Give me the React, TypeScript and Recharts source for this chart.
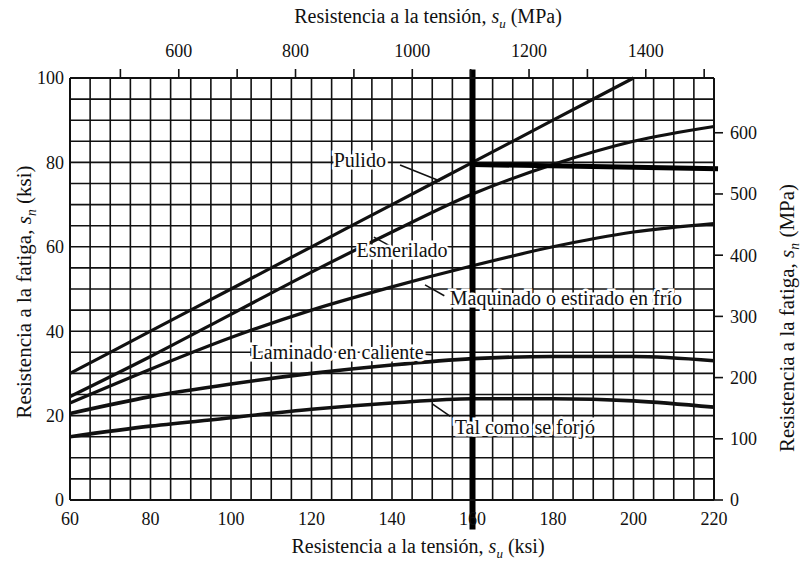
import {
  LineChart,
  Line,
  XAxis,
  YAxis,
  CartesianGrid,
  ReferenceLine,
  ReferenceDot,
} from "recharts";

// tensile strength s_u (ksi) at which curves were read
const su = [60, 80, 100, 120, 140, 160, 180, 200, 220];
// fatigue strength s_n (ksi) per surface finish
const pulido = [30, 40, 50, 60, 70, 80, 90, 100, null];
const esmerilado = [24.5, 34, 44, 54, 63.5, 72.5, 79.5, 85, 88.5];
const maquinado = [23, 31, 38.5, 45, 50.5, 55.5, 60, 63.5, 65.5];
const laminado = [20.5, 24.5, 27.5, 30, 32, 33.5, 34, 34, 33];
const forjado = [15, 17.5, 19.5, 21.5, 23, 24, 24, 23.5, 22];

const ksiLabels = [60, 80, 100, 120, 140, 160, 180, 200, 220];
const snLabels = [0, 20, 40, 60, 80, 100];
const mpaTopTicks = [500, 600, 700, 800, 900, 1000, 1100, 1200, 1300, 1400, 1500];
const mpaTopLabels = [600, 800, 1000, 1200, 1400];
const mpaRightTicks = [0, 100, 200, 300, 400, 500, 600];

const K = 6.894757; // MPa per ksi
const FONT = "'Liberation Serif', 'Times New Roman', serif";
const INK = "#111";

const gridX = Array.from({ length: 33 }, (_, i) => 60 + i * 5);
const gridY = Array.from({ length: 21 }, (_, i) => i * 5);

const data = su.map((x, i) => ({
  x,
  pulido: pulido[i],
  esmerilado: esmerilado[i],
  maquinado: maquinado[i],
  laminado: laminado[i],
  forjado: forjado[i],
}));

const tickStyle = { fill: INK, fontSize: 18, fontFamily: FONT };

function curveText(text: string) {
  return (p: any) => {
    const vb = p.viewBox || {};
    const x = (vb.x ?? 0) + (vb.width ?? 0) / 2;
    const y = (vb.y ?? 0) + (vb.height ?? 0) / 2;
    return (
      <text
        x={x}
        y={y}
        textAnchor="middle"
        dominantBaseline="central"
        fontFamily={FONT}
        fontSize={20}
        fill={INK}
        stroke="#fff"
        strokeWidth={5}
        paintOrder="stroke"
      >
        {text}
      </text>
    );
  };
}

const labels = [
  { x: 132, y: 80.6, text: "Pulido" },
  { x: 142.5, y: 59.2, text: "Esmerilado" },
  { x: 183.2, y: 47.9, text: "Maquinado o estirado en frío" },
  { x: 126.5, y: 35.1, text: "Laminado en caliente" },
  { x: 173, y: 17.3, text: "Tal como se forjó" },
];

const leaders = [
  [{ x: 142, y: 79.4 }, { x: 151.9, y: 75.6 }],
  [{ x: 135.5, y: 62.3 }, { x: 139.5, y: 60.2 }],
  [{ x: 148.2, y: 51 }, { x: 153, y: 48.4 }],
  [{ x: 147.5, y: 34.6 }, { x: 150, y: 34.4 }],
  [{ x: 150, y: 22.8 }, { x: 154.5, y: 19.8 }],
];

function Title({ cx, cy, rotate, size, unit, sub }: any) {
  return (
    <div
      style={{
        position: "absolute",
        left: cx,
        top: cy,
        transform: `translate(-50%, -50%)${rotate ? " rotate(-90deg)" : ""}`,
        whiteSpace: "nowrap",
        fontFamily: FONT,
        fontSize: size,
        color: INK,
        lineHeight: 1.2,
      }}
    >
      Resistencia a la {sub === "u" ? "tensión" : "fatiga"}, <i>s</i>
      <sub style={{ fontSize: "0.65em", fontStyle: "italic" }}>{sub}</sub> ({unit})
    </div>
  );
}

export default function App() {
  return (
    <div
      style={{
        position: "absolute",
        left: 0,
        top: 0,
        width: 801,
        height: 567,
        background: "#fff",
      }}
    >
      <LineChart
        width={801}
        height={567}
        data={data}
        margin={{ top: 38, right: 27, bottom: 37, left: 10 }}
      >
        <CartesianGrid stroke={INK} strokeWidth={1.6} />
        <XAxis
          dataKey="x"
          type="number"
          domain={[60, 220]}
          ticks={gridX}
          interval={0}
          tickFormatter={(v) => (ksiLabels.includes(v) ? String(v) : "")}
          tick={tickStyle}
          tickLine={false}
          tickSize={0}
          tickMargin={12}
          axisLine={{ stroke: INK, strokeWidth: 2 }}
          height={30}
        />
        {/* MPa scale on top: same ksi scale, ticks placed at MPa equivalents */}
        <XAxis
          xAxisId="mpa"
          dataKey="x"
          orientation="top"
          type="number"
          domain={[60, 220]}
          allowDataOverflow
          ticks={mpaTopTicks.map((m) => m / K)}
          interval={0}
          tickFormatter={(v) => {
            const m = Math.round(v * K);
            return mpaTopLabels.includes(m) ? String(m) : "";
          }}
          tick={tickStyle}
          tickLine={{ stroke: INK, strokeWidth: 1.6 }}
          tickSize={9}
          tickMargin={12}
          axisLine={{ stroke: INK, strokeWidth: 2 }}
          height={40}
        />
        <YAxis
          type="number"
          domain={[0, 100]}
          ticks={gridY}
          interval={0}
          tickFormatter={(v) => (snLabels.includes(v) ? String(v) : "")}
          tick={tickStyle}
          tickLine={false}
          tickSize={0}
          tickMargin={6}
          axisLine={{ stroke: INK, strokeWidth: 2 }}
          width={60}
        />
        <YAxis
          yAxisId="mpa"
          orientation="right"
          type="number"
          domain={[0, 100 * K]}
          allowDataOverflow
          ticks={mpaRightTicks}
          interval={0}
          tick={tickStyle}
          tickLine={{ stroke: INK, strokeWidth: 1.6 }}
          tickSize={9}
          tickMargin={7}
          axisLine={{ stroke: INK, strokeWidth: 2 }}
          width={60}
        />
        <Line type="monotone" dataKey="pulido" stroke={INK} strokeWidth={3.2} dot={false} isAnimationActive={false} />
        <Line type="monotone" dataKey="esmerilado" stroke={INK} strokeWidth={3.2} dot={false} isAnimationActive={false} />
        <Line type="monotone" dataKey="maquinado" stroke={INK} strokeWidth={3.2} dot={false} isAnimationActive={false} />
        <Line type="monotone" dataKey="laminado" stroke={INK} strokeWidth={3.6} dot={false} isAnimationActive={false} />
        <Line type="monotone" dataKey="forjado" stroke={INK} strokeWidth={3.6} dot={false} isAnimationActive={false} />
        {leaders.map((seg, i) => (
          <ReferenceLine
            key={"l" + i}
            segment={seg}
            stroke={INK}
            strokeWidth={1.5}
            ifOverflow="visible"
          />
        ))}
        {labels.map((l) => (
          <ReferenceDot
            key={l.text}
            x={l.x}
            y={l.y}
            r={1}
            fill="none"
            stroke="none"
            ifOverflow="visible"
            label={{ content: curveText(l.text) }}
          />
        ))}
        <ReferenceLine
          segment={[{ x: 160, y: -7 }, { x: 160, y: 102 }]}
          stroke="#000"
          strokeWidth={6}
          ifOverflow="visible"
        />
        <ReferenceLine
          segment={[{ x: 160, y: 79.5 }, { x: 221, y: 78.5 }]}
          stroke="#000"
          strokeWidth={5}
          ifOverflow="visible"
        />
      </LineChart>
      <Title cx={428} cy={18} size={20} unit="MPa" sub="u" />
      <Title cx={418} cy={548} size={20} unit="ksi" sub="u" />
      <Title cx={26} cy={292} size={21} unit="ksi" sub="n" rotate />
      <Title cx={789} cy={318} size={21} unit="MPa" sub="n" rotate />
    </div>
  );
}
